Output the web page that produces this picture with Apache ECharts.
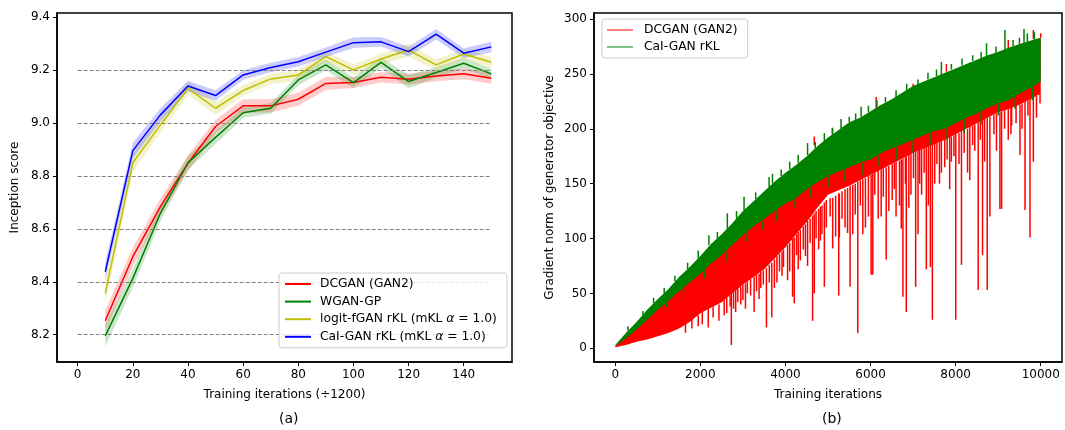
<!DOCTYPE html>
<html>
<head>
<meta charset="utf-8">
<script src="https://cdn.jsdelivr.net/npm/echarts@6/dist/echarts.min.js"></script>
<style>
  html, body { margin: 0; padding: 0; background: #fff; }
  #chart { width: 1065px; height: 430px; }
</style>
</head>
<body>
<div id="chart"></div>
<script>
// (a) Inception score 数据
var iterLeft = [10, 20, 30, 40, 50, 60, 70, 80, 90, 100, 110, 120, 130, 140, 150];
var dcganScore = [8.253, 8.495, 8.684, 8.848, 8.987, 9.065, 9.065, 9.090, 9.150, 9.153, 9.173, 9.166, 9.178, 9.186, 9.169];
var wganScore = [8.196, 8.413, 8.659, 8.850, 8.946, 9.039, 9.056, 9.163, 9.220, 9.153, 9.229, 9.157, 9.191, 9.226, 9.186];
var logitScore = [8.356, 8.850, 8.993, 9.131, 9.056, 9.123, 9.167, 9.182, 9.251, 9.201, 9.242, 9.276, 9.220, 9.261, 9.230];
var calScore = [8.438, 8.896, 9.031, 9.140, 9.104, 9.182, 9.210, 9.232, 9.268, 9.304, 9.307, 9.270, 9.336, 9.264, 9.288];
// 阴影带的半宽
var dcganSd = [0.04, 0.035, 0.03, 0.03, 0.025, 0.025, 0.025, 0.025, 0.025, 0.02, 0.02, 0.02, 0.02, 0.02, 0.02];
var wganSd = [0.04, 0.035, 0.03, 0.025, 0.025, 0.02, 0.02, 0.02, 0.02, 0.02, 0.02, 0.025, 0.02, 0.02, 0.02];
var logitSd = [0.04, 0.035, 0.03, 0.025, 0.025, 0.02, 0.02, 0.02, 0.02, 0.02, 0.02, 0.025, 0.02, 0.02, 0.02];
var calSd = [0.035, 0.03, 0.025, 0.02, 0.02, 0.018, 0.018, 0.018, 0.018, 0.02, 0.018, 0.018, 0.02, 0.018, 0.02];
var refLevels = [8.2, 8.4, 8.6, 8.8, 9.0, 9.2];
var leftXTicks = [0, 20, 40, 60, 80, 100, 120, 140];
var leftYTicks = [8.2, 8.4, 8.6, 8.8, 9.0, 9.2, 9.4];

// (b) gradient norm 数据 (包络 + 尖刺)
var iterRight = [0, 250, 500, 750, 1000, 1250, 1500, 1750, 2000, 2250, 2500, 2750, 3000, 3250, 3500, 3750, 4000,
  4250, 4500, 4750, 5000, 5250, 5500, 5750, 6000, 6250, 6500, 6750, 7000, 7250, 7500, 7750, 8000,
  8250, 8500, 8750, 9000, 9250, 9500, 9750, 10000];
var calHigh = [3, 14, 24, 35, 45, 54, 65, 74, 84, 95, 104, 114, 125, 134, 143, 152, 160,
  167, 175, 184, 192, 199, 206, 210, 216, 222, 227, 233, 239, 243, 247, 251, 255,
  259, 263, 267, 270, 274, 277, 280, 283];
var calLow = [2, 9, 17, 26, 35, 43, 52, 60, 68, 77, 85, 94, 103, 111, 118, 125, 132,
  137, 145, 151, 157, 161, 165, 169, 172, 178, 182, 186, 190, 194, 198, 200, 205,
  210, 214, 219, 223, 226, 232, 237, 243];
var dcHigh = [2, 10, 19, 30, 40, 50, 60, 70, 80, 90, 100, 109, 117, 124, 130, 140, 150,
  160, 170, 179, 188, 196, 204, 209, 214, 220, 226, 232, 238, 242, 246, 250, 254,
  258, 262, 266, 270, 273, 277, 280, 283];
var dcLow = [1, 3, 6, 8, 11, 14, 18, 24, 32, 37, 42, 50, 58, 65, 72, 82, 92,
  104, 115, 128, 140, 144, 148, 153, 158, 163, 168, 173, 178, 182, 186, 190, 195,
  200, 205, 210, 215, 218, 222, 227, 232];
// [iteration, top, bottom] 深的红色尖刺
var dcSpikes = [
  [1650, 24, 14], [1800, 27, 18], [1950, 30, 20], [2044, 33, 22], [2185, 36, 19], [2300, 38, 28],
  [2437, 40, 25], [2560, 44, 30], [2728, 50, 3], [2830, 53, 33], [2950, 56, 40], [3105, 61, 50],
  [3263, 65, 33], [3420, 70, 55], [3553, 73, 19], [3679, 78, 28], [3800, 84, 60], [3954, 90, 74],
  [4050, 94, 62], [4167, 100, 47], [4206, 101, 41], [4350, 108, 80], [4520, 116, 75], [4638, 121, 25],
  [4678, 123, 50], [4780, 127, 90], [4858, 130, 104], [4914, 133, 56], [5110, 137, 91], [5252, 141, 48],
  [5267, 141, 101], [5400, 145, 110], [5519, 148, 56], [5582, 149, 104], [5700, 152, 14], [5818, 154, 104],
  [5950, 157, 120], [6014, 158, 67], [6053, 159, 67], [6250, 163, 120], [6368, 165, 81], [6509, 168, 135],
  [6600, 170, 120], [6722, 172, 109], [6761, 173, 47], [6840, 175, 33], [6950, 177, 140], [7060, 179, 56],
  [7115, 180, 104], [7154, 181, 150], [7311, 184, 72], [7406, 185, 74], [7453, 186, 26], [7508, 187, 150],
  [7665, 189, 160], [7744, 191, 165], [7900, 193, 170], [8003, 195, 26], [8137, 198, 76], [8333, 202, 153],
  [8450, 204, 180], [8530, 206, 53], [8632, 208, 85], [8742, 210, 53], [8805, 211, 120], [9041, 215, 127],
  [9080, 216, 127], [9237, 218, 190], [9316, 220, 203], [9512, 222, 176], [9631, 225, 126], [9748, 228, 101],
  [9827, 229, 170], [9984, 232, 223]
];
// 中等深度的红色尖刺
var dcShortSpikes = [
  [2620, 46, 32], [2700, 48, 38], [2780, 51, 36], [2880, 54, 42], [3000, 58, 44], [3060, 59, 36],
  [3180, 63, 48], [3320, 67, 52], [3380, 68, 45], [3480, 71, 58], [3620, 76, 60], [3740, 81, 55],
  [3860, 86, 70], [3920, 88, 66], [4100, 96, 70], [4260, 104, 85], [4300, 106, 72], [4420, 111, 90],
  [4470, 113, 84], [4580, 118, 96], [4720, 125, 100], [4820, 129, 98], [4960, 135, 110], [5050, 137, 120],
  [5180, 139, 102], [5330, 143, 118], [5460, 146, 105], [5640, 150, 122], [5760, 153, 130], [5880, 155, 110],
  [6100, 160, 140], [6180, 162, 118], [6300, 164, 138], [6430, 166, 125], [6560, 169, 145], [6680, 171, 130],
  [6820, 174, 150], [6900, 176, 128], [7010, 178, 155], [7200, 182, 140], [7260, 183, 160], [7360, 185, 130],
  [7560, 187, 168], [7620, 188, 150], [7800, 192, 172], [7860, 193, 145], [7960, 194, 175], [8080, 196, 168],
  [8200, 199, 178], [8280, 200, 160], [8400, 203, 185], [8580, 207, 190], [8680, 209, 170], [8900, 213, 195],
  [8960, 214, 180], [9150, 217, 200], [9300, 219, 195], [9420, 221, 205], [9560, 223, 200], [9700, 226, 212],
  [9900, 230, 210]
];
// 红色高出绿色的部分
var dcPeaks = [
  [4678, 185, 193], [5110, 195, 200], [6132, 218, 229], [7000, 238, 241], [7783, 252, 259],
  [9237, 273, 281], [9827, 282, 290], [10000, 283, 287]
];
// 绿色向上/向下的毛刺
var calUpSpikes = [
  [300, 16, 20], [650, 30, 34], [900, 41, 46], [1150, 50, 55], [1400, 61, 66], [1700, 72, 78],
  [1950, 82, 89], [2201, 94, 103], [2400, 100, 106], [2634, 109, 123], [2850, 118, 125], [3027, 126, 138],
  [3300, 136, 142], [3616, 147, 156], [3695, 150, 159], [3900, 157, 163], [4100, 163, 170], [4300, 169, 176],
  [4520, 176, 187], [4700, 182, 188], [4914, 189, 196], [5100, 195, 201], [5306, 200, 209], [5500, 206, 211],
  [5650, 208, 214], [5778, 211, 220], [5950, 215, 221], [6150, 220, 226], [6350, 224, 229], [6600, 229, 235],
  [6850, 235, 241], [7115, 240, 245], [7350, 245, 251], [7550, 248, 254], [7665, 249, 261], [7900, 254, 259],
  [8150, 258, 264], [8400, 262, 267], [8600, 264, 270], [8726, 266, 278], [8950, 269, 275], [9159, 272, 290],
  [9350, 275, 281], [9500, 277, 283], [9607, 278, 291], [9686, 279, 287], [9850, 281, 288]
];
var calDownSpikes = [
  [1200, 42, 38], [1600, 55, 50], [2100, 71, 64], [2600, 88, 80], [3100, 105, 97], [3450, 116, 108],
  [3800, 126, 116], [4200, 139, 128], [4600, 148, 137], [5000, 157, 147], [5400, 163, 152], [5800, 169, 158],
  [6200, 176, 166], [6600, 184, 172], [7000, 190, 178], [7400, 196, 185], [7800, 202, 190], [8200, 209, 196],
  [8600, 216, 204], [9000, 223, 212], [9400, 230, 218], [9800, 238, 226]
];
var rightXTicks = [0, 2000, 4000, 6000, 8000, 10000];
var rightYTicks = [0, 50, 100, 150, 200, 250, 300];

(function () {
  var FONT = "DejaVu Sans";
  var myChart = echarts.init(document.getElementById("chart"), null, { renderer: "canvas" });

  // 上下界
  function shift(arr, sd, sign) {
    return arr.map(function (v, i) { return v + sign * sd[i]; });
  }

  // 用一个多边形画阴影带
  function band(xs, lo, hi, color, axis, z) {
    return {
      type: "custom",
      xAxisIndex: axis,
      yAxisIndex: axis,
      silent: true,
      z: z,
      data: [[xs[0], lo[0]]],
      renderItem: function (params, api) {
        var pts = [];
        for (var i = 0; i < xs.length; i++) pts.push(api.coord([xs[i], hi[i]]));
        for (var j = xs.length - 1; j >= 0; j--) pts.push(api.coord([xs[j], lo[j]]));
        return { type: "polygon", shape: { points: pts }, style: { fill: color } };
      },
    };
  }

  // 竖直线段
  function spikes(name, data, color, z) {
    return {
      name: name,
      type: "custom",
      xAxisIndex: 1,
      yAxisIndex: 1,
      silent: true,
      z: z,
      itemStyle: { color: color },
      encode: { x: 0, y: [1, 2] },
      data: data,
      renderItem: function (params, api) {
        var p1 = api.coord([api.value(0), api.value(1)]);
        var p2 = api.coord([api.value(0), api.value(2)]);
        return {
          type: "line",
          shape: { x1: p1[0], y1: p1[1], x2: p2[0], y2: p2[1] },
          style: { stroke: color, lineWidth: 1.5 },
        };
      },
    };
  }

  function line(name, ys, color, z) {
    return {
      name: name,
      type: "line",
      xAxisIndex: 0,
      yAxisIndex: 0,
      z: z,
      symbol: "none",
      color: color,
      lineStyle: { color: color, width: 1.5 },
      data: iterLeft.map(function (x, i) { return [x, ys[i]]; }),
    };
  }

  var tickStyle = { show: true, length: 4, lineStyle: { color: "#000", width: 1 } };
  var labelStyle = { color: "#000", fontSize: 12, fontFamily: FONT };
  var nameStyle = { color: "#000", fontSize: 12, fontFamily: FONT };
  var axisLineStyle = { show: true, onZero: false, lineStyle: { color: "#000", width: 1.5 } };

  var refLines = refLevels.map(function (v) {
    return [{ coord: [0, v] }, { coord: [150, v] }];
  });

  var option = {
    animation: false,
    backgroundColor: "#fff",
    textStyle: { fontFamily: FONT },
    grid: [
      { left: 57, top: 13, width: 455, height: 349, show: true, borderColor: "#000", borderWidth: 1.5, backgroundColor: "transparent" },
      { left: 594, top: 13, width: 468, height: 349, show: true, borderColor: "#000", borderWidth: 1.5, backgroundColor: "transparent" },
    ],
    xAxis: [
      {
        gridIndex: 0, type: "value", min: -7.5, max: 157.5,
        name: "Training iterations (÷1200)", nameLocation: "middle", nameGap: 27, nameTextStyle: nameStyle,
        axisLine: axisLineStyle,
        axisTick: Object.assign({ customValues: leftXTicks }, tickStyle),
        axisLabel: Object.assign({ customValues: leftXTicks, margin: 7 }, labelStyle),
        splitLine: { show: false },
      },
      {
        gridIndex: 1, type: "value", min: -500, max: 10500,
        name: "Training iterations", nameLocation: "middle", nameGap: 27, nameTextStyle: nameStyle,
        axisLine: axisLineStyle,
        axisTick: Object.assign({ customValues: rightXTicks }, tickStyle),
        axisLabel: Object.assign({
          customValues: rightXTicks, margin: 7,
          formatter: function (v) { return String(v); },
        }, labelStyle),
        splitLine: { show: false },
      },
    ],
    yAxis: [
      {
        gridIndex: 0, type: "value", min: 8.097, max: 9.416,
        name: "Inception score", nameLocation: "middle", nameGap: 36, nameTextStyle: nameStyle,
        axisLine: axisLineStyle,
        axisTick: Object.assign({ customValues: leftYTicks }, tickStyle),
        axisLabel: Object.assign({
          customValues: leftYTicks, margin: 7,
          formatter: function (v) { return v.toFixed(1); },
        }, labelStyle),
        splitLine: { show: false },
      },
      {
        gridIndex: 1, type: "value", min: -12.5, max: 305.5,
        name: "Gradient norm of generator objective", nameLocation: "middle", nameGap: 38, nameTextStyle: nameStyle,
        axisLine: axisLineStyle,
        axisTick: Object.assign({ customValues: rightYTicks }, tickStyle),
        axisLabel: Object.assign({ customValues: rightYTicks, margin: 7 }, labelStyle),
        splitLine: { show: false },
      },
    ],
    legend: [
      {
        data: ["DCGAN (GAN2)", "WGAN-GP", "logit-fGAN rKL (mKL α = 1.0)", "CaI-GAN rKL (mKL α = 1.0)"],
        left: 279, top: 273, orient: "vertical", z: 20,
        padding: [5, 10, 5, 6], itemGap: 5.6,
        itemWidth: 26, itemHeight: 2, icon: "rect",
        backgroundColor: "rgba(255,255,255,0.8)", borderColor: "#ccc", borderWidth: 1, borderRadius: 3,
        textStyle: {
          color: "#000", fontSize: 12.3, fontFamily: FONT, padding: [0, 0, 0, 4],
          rich: { i: { fontStyle: "italic", fontSize: 12.3, fontFamily: FONT, color: "#000" } },
        },
        formatter: function (name) { return name.replace("α", "{i|α}"); },
        selectedMode: false,
      },
      {
        data: ["DCGAN (GAN2)", "CaI-GAN rKL"],
        left: 602, top: 19, orient: "vertical", z: 20,
        padding: [5, 10, 5, 5], itemGap: 5,
        itemWidth: 26, itemHeight: 1, icon: "rect",
        backgroundColor: "rgba(255,255,255,0.8)", borderColor: "#ccc", borderWidth: 1, borderRadius: 3,
        textStyle: { color: "#000", fontSize: 12.3, fontFamily: FONT, padding: [0, 0, 0, 6] },
        selectedMode: false,
      },
    ],
    graphic: [
      { type: "text", left: 279, top: 412, style: { text: "(a)", font: "14px 'DejaVu Sans'", fill: "#000" } },
      { type: "text", left: 822, top: 412, style: { text: "(b)", font: "14px 'DejaVu Sans'", fill: "#000" } },
    ],
    series: [
      // 左图 阴影带
      band(iterLeft, shift(dcganScore, dcganSd, -1), shift(dcganScore, dcganSd, 1), "rgba(255,0,0,0.2)", 0, 1),
      band(iterLeft, shift(wganScore, wganSd, -1), shift(wganScore, wganSd, 1), "rgba(0,128,0,0.2)", 0, 1),
      band(iterLeft, shift(logitScore, logitSd, -1), shift(logitScore, logitSd, 1), "rgba(191,191,0,0.2)", 0, 1),
      band(iterLeft, shift(calScore, calSd, -1), shift(calScore, calSd, 1), "rgba(0,0,255,0.2)", 0, 1),
      // 左图 曲线
      Object.assign(line("DCGAN (GAN2)", dcganScore, "#ff0000", 3), {
        markLine: {
          silent: true, symbol: "none", label: { show: false },
          lineStyle: { color: "#808080", type: [4, 2], width: 1 },
          data: refLines,
        },
      }),
      line("WGAN-GP", wganScore, "#008000", 4),
      line("logit-fGAN rKL (mKL α = 1.0)", logitScore, "#bfbf00", 5),
      line("CaI-GAN rKL (mKL α = 1.0)", calScore, "#0000ff", 6),
      // 右图
      band(iterRight, dcLow, dcHigh, "#ff0000", 1, 2),
      spikes("DCGAN (GAN2)", dcSpikes, "#ff0000", 2),
      spikes("dcShort", dcShortSpikes, "#ff0000", 2),
      spikes("dcPeaks", dcPeaks, "#ff0000", 2),
      band(iterRight, calLow, calHigh, "#008000", 1, 3),
      spikes("CaI-GAN rKL", calUpSpikes, "#008000", 3),
      spikes("calDown", calDownSpikes, "#008000", 3),
    ],
  };

  myChart.setOption(option);
  window.addEventListener("resize", function () {
    myChart.resize();
  });
})();
</script>
</body>
</html>
